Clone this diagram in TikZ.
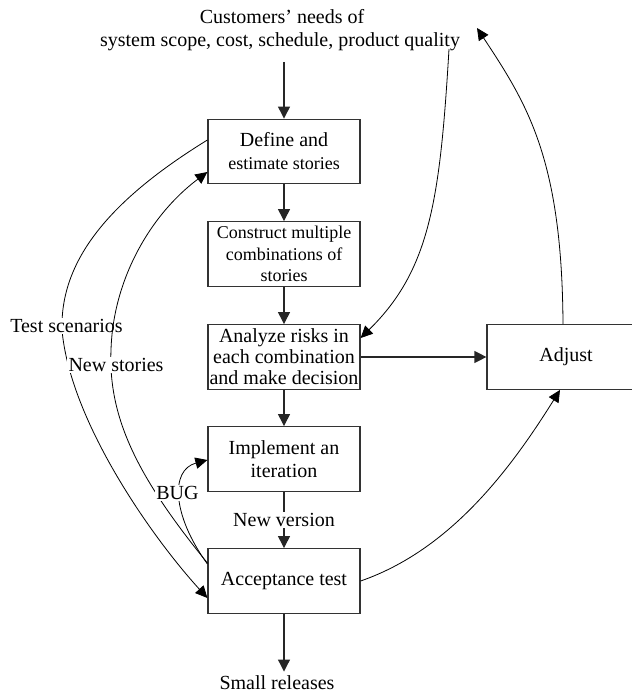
\documentclass[tikz,border=0pt]{standalone}
\usepackage{fontspec}
\setmainfont{Liberation Serif}
\usetikzlibrary{arrows.meta,calc}
\begin{document}
\begin{tikzpicture}[x=0.75pt,y=-0.75pt,
  box/.style={draw=black!80, line width=0.9pt, fill=white, minimum width=114pt,
    minimum height=48.5pt, inner sep=0pt, align=center, font=\fontsize{15}{17.25}\selectfont},
  flow/.style={-{Triangle[length=9pt,width=9pt]}, line width=0.9pt, draw=black!85},
  curve/.style={-{Triangle[length=9pt,width=8.5pt]}, line width=0.6pt},
  lbl/.style={fill=white, inner sep=1pt, font=\fontsize{15}{18}\selectfont},
  plain/.style={inner sep=1pt, font=\fontsize{15}{18}\selectfont}]
\useasboundingbox (0,0) rectangle (631,695);

% title
\node[plain, anchor=base] (title1) at (282,24) {Customers’ needs of};
\node[plain, anchor=base] (title2) at (280,47) {system scope, cost, schedule, product quality};
\coordinate (tstart) at (284,62);
\coordinate (qend) at (449,49);
\coordinate (topend) at (477,28);

% boxes
\node[box] (define) at (284,151.5) {Define and\\{\fontsize{13.5}{17.25}\selectfont estimate stories}};
\node[box, font=\fontsize{13.5}{16.1}\selectfont] (construct) at (284,254) {Construct multiple\\combinations of\\stories};
\node[box, font=\fontsize{15}{15.75}\selectfont] (analyze) at (284,357) {Analyze risks in\\each combination\\and make decision};
\node[box] (implement) at (284,459) {Implement an\\iteration};
\node[box] (accept) at (284,581) {Acceptance test};
\node[box, minimum width=118.5pt] (adjust) at (566,357) {Adjust};
\node[plain, anchor=base, inner sep=2.5pt] (rel) at (277,689) {Small releases};

% straight flow
\draw[flow] (tstart) -- (define.north);
\draw[flow] (define.south) -- (construct.north);
\draw[flow] (construct.south) -- (analyze.north);
\draw[flow] (analyze.south) -- (implement.south |- analyze.south) -- (implement.north);
\draw[flow] (analyze.east) -- (adjust.west);
\draw[flow] (implement.south) -- node[lbl] (newver) {New version} (accept.north);
\draw[flow] (accept.south) -- (accept.south |- rel.north);

% right-hand curves
\draw[curve] (qend) .. controls (440,200) and (430,270) .. ($(analyze.east)+(0,-19)$);
\draw[curve] ($(adjust.north)+(-3,0)$) .. controls (562,160) and (528,105) .. (topend);
\draw[curve] (accept.east) .. controls (450,550) and (510,470) .. ($(adjust.south)+(-6,0)$);

% left-hand curves
\draw[curve] ($(define.west)+(0,-11.5)$) .. controls (110,200) and (60,260) .. (62,330)
   .. controls (70,420) and (150,535) .. ($(accept.west)+(0,17)$);
\node[lbl] (tsc) at (66.5,326) {Test scenarios};
\draw[curve] ($(accept.west)+(0,-18)$) .. controls (140,480) and (108,420) .. (111,350)
   .. controls (113,280) and (150,215) .. ($(define.west)+(0,20.5)$);
\node[lbl] (nst) at (116,365) {New stories};
\draw[curve] ($(accept.west)+(0,-17)$) .. controls (172,515) and (170,470) .. ($(implement.west)+(0,1)$);
\node[lbl] (bug) at (177.5,493) {BUG};
\end{tikzpicture}
\end{document}
